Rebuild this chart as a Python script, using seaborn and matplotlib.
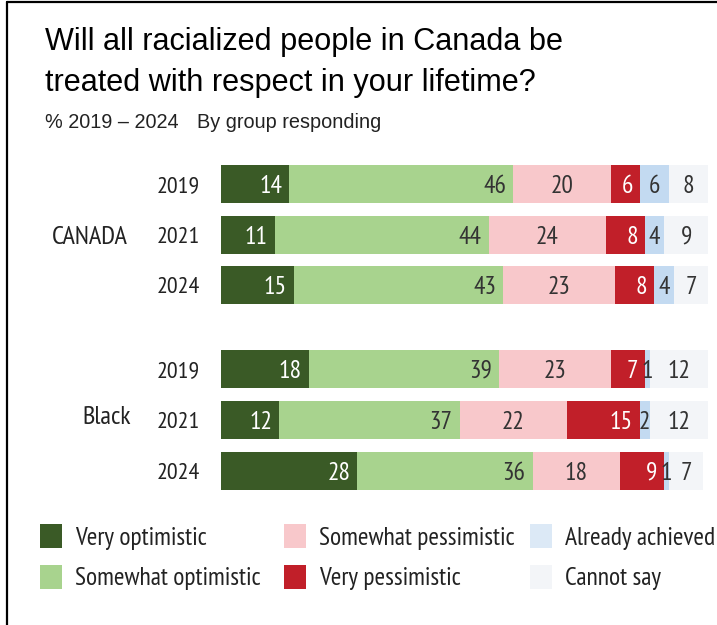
import numpy as np
import pandas as pd
import seaborn as sns
import matplotlib.pyplot as plt
from matplotlib import font_manager
from matplotlib.patches import Rectangle
from matplotlib.lines import Line2D

# =============================================================================
# Data
# =============================================================================
groups = ["CANADA", "CANADA", "CANADA", "Black", "Black", "Black"]
years = ["2019", "2021", "2024", "2019", "2021", "2024"]

very_opt = [14, 11, 15, 18, 12, 28]
somewhat_opt = [46, 44, 43, 39, 37, 36]
somewhat_pess = [20, 24, 23, 23, 22, 18]
very_pess = [6, 8, 8, 7, 15, 9]
already = [6, 4, 4, 1, 2, 1]
cannot_say = [8, 9, 7, 12, 12, 7]

categories = ["Very optimistic", "Somewhat optimistic", "Somewhat pessimistic",
              "Very pessimistic", "Already achieved", "Cannot say"]
colors = ["#3a5a26", "#a8d38e", "#f8c8cb", "#c11f29", "#c3daf1", "#f3f5f8"]
legend_colors = ["#3a5a26", "#a8d38e", "#f8c8cb", "#c11f29", "#dce9f6", "#f3f5f8"]
text_colors = ["white", "#333333", "#333333", "white", "#333333", "#333333"]
# label alignment inside each segment
aligns = ["right", "right", "center", "right", "center", "center"]

# =============================================================================
# Fonts
# =============================================================================
sns.set_theme(style="white")
plt.rcParams["font.family"] = ["DejaVu Sans"]

def pick_font(names):
    for n in names:
        try:
            font_manager.findfont(font_manager.FontProperties(family=n),
                                  fallback_to_default=False)
            return n
        except Exception:
            pass
    return None

title_font = pick_font(["Liberation Sans", "Arimo"]) or "DejaVu Sans"
narrow = pick_font(["PT Sans Narrow", "Roboto Condensed", "Archivo Narrow",
                    "Asap Condensed"])
if narrow:
    cond = dict(family=narrow)
else:
    cond = dict(family="DejaVu Sans", stretch="condensed")
helv = dict(family=title_font)

W, H = 717, 625
fig = plt.figure(figsize=(W / 100, H / 100), dpi=100)
fig.patch.set_facecolor("white")
renderer = fig.canvas.get_renderer()

def fit_size(text, target_px, font):
    """font size (pt) so that text is target_px wide"""
    t = fig.text(0, 0, text, fontsize=20, **font)
    w = t.get_window_extent(renderer).width
    t.remove()
    return 20 * target_px / w

lab_fs = fit_size("Somewhat pessimistic", 195, cond)
year_fs = fit_size("2019", 43, cond)
grp_fs = fit_size("CANADA", 76, cond)
title_fs = fit_size("Will all racialized people in Canada be", 518, helv)
sub_fs = fit_size("By group responding", 183, helv)

# =============================================================================
# Build dataframe
# =============================================================================
row_px = [184, 235, 285, 369, 420, 471]   # centre of each bar in pixels
ax_top, ax_bot = 150, 500
px_per_unit = 51.0

df = pd.DataFrame({"group": groups, "year": years})
df["ypos"] = [(p - row_px[0]) / px_per_unit for p in row_px]
values = [very_opt, somewhat_opt, somewhat_pess, very_pess, already, cannot_say]
cum = np.cumsum(np.array(values), axis=0)
for i in range(len(categories)):
    df[f"val{i}"] = values[i]
    df[f"cum{i}"] = cum[i]

x0_px, x1_px = 221, 708
ax = fig.add_axes([x0_px / W, 1 - ax_bot / H, (x1_px - x0_px) / W, (ax_bot - ax_top) / H])

# stacked bars: draw cumulative totals from the outside in
for i in reversed(range(len(categories))):
    sns.barplot(data=df, x=f"cum{i}", y="ypos", orient="h", native_scale=True,
                color=colors[i], saturation=1, width=0.76, linewidth=0,
                errorbar=None, ax=ax)

ax.set_xlim(0, 100)
ax.set_ylim((ax_bot - row_px[0]) / px_per_unit, (ax_top - row_px[0]) / px_per_unit)
ax.axis("off")

px = 100 / (x1_px - x0_px)  # data units per pixel
dy = 2.5 / px_per_unit     # nudge labels down a little
for r, row in df.iterrows():
    for i in range(len(categories)):
        v = row[f"val{i}"]
        end = row[f"cum{i}"]
        start = end - v
        if aligns[i] == "right":
            xt, ha = end - 7 * px, "right"
        else:
            xt, ha = (start + end) / 2, "center"
        ax.text(xt, row["ypos"] + dy, str(v), ha=ha, va="center",
                fontsize=lab_fs, color=text_colors[i], clip_on=False, **cond)
    ax.text(-21 * px, row["ypos"] + dy, row["year"], ha="right", va="center",
            fontsize=year_fs, color="#222222", clip_on=False, **cond)

# group labels
for g, (xc, yc) in {"CANADA": (90, 237), "Black": (107, 418)}.items():
    fig.text(xc / W, 1 - yc / H, g, ha="center", va="center",
             fontsize=grp_fs, color="#222222", **cond)

# title and subtitle
fig.text(45 / W, 1 - 42 / H, "Will all racialized people in Canada be",
         fontsize=title_fs, color="black", va="center", **helv)
fig.text(45 / W, 1 - 83 / H, "treated with respect in your lifetime?",
         fontsize=title_fs, color="black", va="center", **helv)
fig.text(45 / W, 1 - 123 / H, "% 2019 \u2013 2024", fontsize=sub_fs,
         color="#222222", va="center", **helv)
fig.text(197 / W, 1 - 123 / H, "By group responding", fontsize=sub_fs,
         color="#222222", va="center", **helv)

# legend, built by hand so the columns sit where they do in the reference
leg_cols = [40, 284, 530]
leg_rows = [536, 577]
for i, cat in enumerate(categories):
    cx = leg_cols[i // 2]
    cy = leg_rows[i % 2]
    fig.patches.append(Rectangle((cx / W, 1 - (cy + 12) / H), 22 / W, 24 / H,
                                 transform=fig.transFigure, color=legend_colors[i],
                                 linewidth=0))
    fig.text((cx + 35) / W, 1 - (cy + 2) / H, cat, fontsize=lab_fs,
             color="#222222", va="center", **cond)

# frame lines (top and left)
fig.add_artist(Line2D([7 / W, 1], [1 - 2 / H, 1 - 2 / H], color="black", lw=1.6,
                      transform=fig.transFigure))
fig.add_artist(Line2D([7 / W, 7 / W], [0, 1 - 2 / H], color="black", lw=1.6,
                      transform=fig.transFigure))

plt.savefig("out.png", dpi=100)
